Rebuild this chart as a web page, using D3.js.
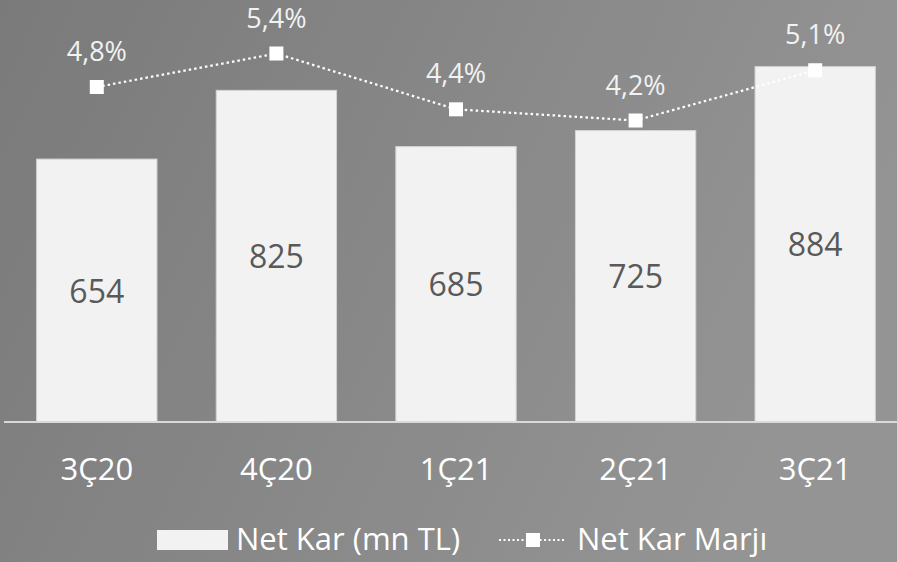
<!DOCTYPE html>
<html lang="tr">
<head>
<meta charset="UTF-8">
<title>Net Kar</title>
<script src="https://d3js.org/d3.v7.min.js"></script>
<style>
  body { margin: 0; padding: 0; overflow: hidden; }
  svg text { font-family: "Open Sans", "Noto Sans", sans-serif; }
</style>
</head>
<body>
<div id="chart"></div>
<script>
// data
const quarters = ["3Ç20", "4Ç20", "1Ç21", "2Ç21", "3Ç21"];
const netKar = [654, 825, 685, 725, 884];
const marj = [4.8, 5.4, 4.4, 4.2, 5.1];
const marjLabels = ["4,8%", "5,4%", "4,4%", "4,2%", "5,1%"];

const width = 897, height = 562;
const baseY = 422, topY = 20;

const svg = d3.select("#chart").append("svg")
    .attr("width", width)
    .attr("height", height);

// background gradient
const grad = svg.append("defs").append("linearGradient")
    .attr("id", "bg")
    .attr("x1", "0%").attr("y1", "0%")
    .attr("x2", "100%").attr("y2", "30%");
grad.append("stop").attr("offset", "0%").attr("stop-color", "#7a7a7a");
grad.append("stop").attr("offset", "100%").attr("stop-color", "#949494");
svg.append("rect").attr("width", width).attr("height", height).attr("fill", "url(#bg)");

// scales
const x = d3.scaleBand()
    .domain(quarters)
    .range([7, 905])
    .paddingInner(0.33)
    .paddingOuter(0.165);

const y = d3.scaleLinear().domain([0, 1000]).range([baseY, topY]);
const y2 = d3.scaleLinear().domain([-1.2, 6]).range([baseY, topY]);

// bars
svg.selectAll(".bar")
  .data(quarters)
  .join("rect")
    .attr("class", "bar")
    .attr("x", d => x(d))
    .attr("y", (d, i) => y(netKar[i]))
    .attr("width", x.bandwidth())
    .attr("height", (d, i) => baseY - y(netKar[i]))
    .attr("fill", "#f2f2f2")
    .attr("stroke", "#d4d4d4")
    .attr("stroke-width", 1);

// bar value labels
svg.selectAll(".barlabel")
  .data(quarters)
  .join("text")
    .attr("class", "barlabel")
    .attr("x", d => x(d) + x.bandwidth() / 2)
    .attr("y", (d, i) => (y(netKar[i]) + baseY) / 2 + 12)
    .attr("text-anchor", "middle")
    .attr("font-size", 32)
    .attr("fill", "#595959")
    .text((d, i) => netKar[i]);

// x axis
const xAxis = svg.append("g")
    .attr("transform", `translate(0,${baseY})`)
    .call(d3.axisBottom(x).tickSize(0).tickPadding(36));
xAxis.select(".domain")
    .attr("d", `M4,0H${width}`)
    .attr("stroke", "#d9d9d9")
    .attr("stroke-width", 2);
xAxis.selectAll("text")
    .attr("font-size", 31)
    .attr("fill", "#ffffff")
    .attr("font-family", "'Open Sans', sans-serif");

// margin line
const line = d3.line()
    .x((d, i) => x(quarters[i]) + x.bandwidth() / 2)
    .y(d => y2(d));

svg.append("path")
    .datum(marj)
    .attr("d", line)
    .attr("fill", "none")
    .attr("stroke", "#ffffff")
    .attr("stroke-width", 2.25)
    .attr("stroke-dasharray", "2.5 3");

svg.selectAll(".marker")
  .data(marj)
  .join("rect")
    .attr("class", "marker")
    .attr("x", (d, i) => x(quarters[i]) + x.bandwidth() / 2 - 7)
    .attr("y", d => y2(d) - 7)
    .attr("width", 14)
    .attr("height", 14)
    .attr("fill", "#ffffff");

svg.selectAll(".marjlabel")
  .data(marj)
  .join("text")
    .attr("class", "marjlabel")
    .attr("x", (d, i) => x(quarters[i]) + x.bandwidth() / 2)
    .attr("y", d => y2(d) - 26)
    .attr("text-anchor", "middle")
    .attr("font-size", 27)
    .attr("fill", "#f2f2f2")
    .text((d, i) => marjLabels[i]);

// legend
const legend = svg.append("g").attr("transform", "translate(0,550)");
legend.append("rect")
    .attr("x", 157).attr("y", -20)
    .attr("width", 71).attr("height", 20)
    .attr("fill", "#f2f2f2");
legend.append("text")
    .attr("x", 236).attr("y", 0)
    .attr("font-size", 31)
    .attr("fill", "#ffffff")
    .text("Net Kar (mn TL)");
legend.append("line")
    .attr("x1", 499).attr("x2", 566)
    .attr("y1", -10).attr("y2", -10)
    .attr("stroke", "#ffffff")
    .attr("stroke-width", 2)
    .attr("stroke-dasharray", "2 2.5");
legend.append("rect")
    .attr("x", 526).attr("y", -17)
    .attr("width", 14).attr("height", 14)
    .attr("fill", "#ffffff");
legend.append("text")
    .attr("x", 577).attr("y", 0)
    .attr("font-size", 31)
    .attr("fill", "#ffffff")
    .text("Net Kar Marjı");
</script>
</body>
</html>
